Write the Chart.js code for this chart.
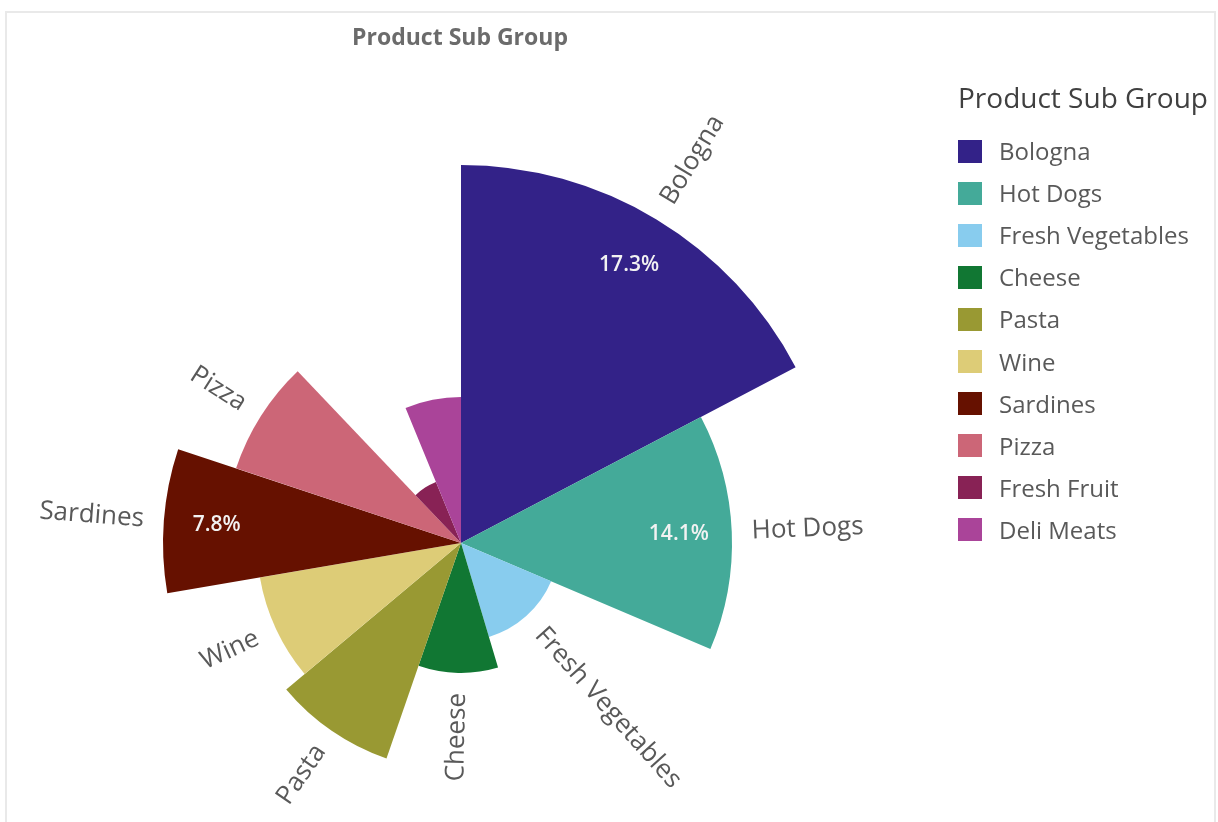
<!DOCTYPE html>
<html>
<head>
<meta charset="utf-8">
<script src="https://cdn.jsdelivr.net/npm/chart.js@4.4.1/dist/chart.umd.min.js"></script>
<style>
  html, body { margin: 0; padding: 0; background: #ffffff; }
  body { width: 1218px; height: 822px; position: relative; overflow: hidden; font-family: "Open Sans", "Noto Sans", sans-serif; }
  #frame { position: absolute; left: 5px; top: 11px; width: 1211px; height: 830px; border: 2px solid #e9e9e9; box-sizing: border-box; }
  #wrap { position: absolute; left: 0; top: 0; width: 1218px; height: 822px; }
  #title { position: absolute; left: 210px; width: 500px; top: 21px; line-height: 30px; text-align: center; font-size: 23px; font-weight: 700; color: #6b6b6b; }
  #legend { position: absolute; left: 958px; top: 0; }
  #legend .lt { position: absolute; left: 0; top: 77px; font-size: 28px; color: #404040; font-weight: 400; line-height: 40px; white-space: nowrap; }
  #legend .row { position: absolute; left: 0; height: 42px; display: flex; align-items: center; white-space: nowrap; }
  #legend .sw { width: 24px; height: 23px; margin-right: 17px; flex: none; }
  #legend .tx { font-size: 24px; color: #595959; line-height: 42px; }
</style>
</head>
<body>
<div id="frame"></div>
<div id="wrap"><canvas id="c"></canvas></div>
<div id="title">Product Sub Group</div>
<div id="legend"></div>
<script>
// Categories (clockwise from 12 o'clock)
const categories = ["Bologna", "Hot Dogs", "Fresh Vegetables", "Cheese", "Pasta", "Wine", "Sardines", "Pizza", "Fresh Fruit", "Deli Meats"];
// Share of total (%) -> slice angle
const sharePct = [17.3, 14.1, 14.0, 9.9, 8.6, 8.4, 7.8, 7.8, 5.9, 6.2];
// Second measure -> slice radius (relative units)
const radiusValues = [378, 271, 98, 130, 228, 204, 298, 237, 66, 146];
// Which slices show a value label inside / a category label outside
const showValueLabel = [true, true, false, false, false, false, true, false, false, false];
const showCategoryLabel = [true, true, true, true, true, true, true, true, false, false];
const colors = ["#332288", "#44aa99", "#88ccee", "#117733", "#999933", "#ddcc77", "#661100", "#cc6677", "#882255", "#aa4499"];

// Legend (HTML)
const legend = document.getElementById('legend');
legend.innerHTML = '<div class="lt">Product Sub Group</div>' + categories.map((c, i) =>
  `<div class="row" style="top:${(151 + i * 42.1 - 21).toFixed(1)}px"><div class="sw" style="background:${colors[i]}"></div><div class="tx">${c}</div></div>`).join('');

const labelPlugin = {
  id: 'sliceLabels',
  afterDatasetsDraw(chart) {
    const ctx = chart.ctx;
    const meta = chart.getDatasetMeta(0);
    meta.data.forEach((arc, i) => {
      const p = arc.getProps(['x', 'y', 'startAngle', 'endAngle', 'outerRadius'], true);
      const mid = (p.startAngle + p.endAngle) / 2;
      const compass = mid + Math.PI / 2; // clockwise from 12 o'clock
      const comp = ((compass % (2 * Math.PI)) + 2 * Math.PI) % (2 * Math.PI);
      if (showCategoryLabel[i]) {
        const r = p.outerRadius + 20;
        const lx = p.x + Math.cos(mid) * r;
        const ly = p.y + Math.sin(mid) * r;
        ctx.save();
        ctx.translate(lx, ly);
        ctx.font = '400 26px "Open Sans", "Noto Sans", sans-serif';
        ctx.fillStyle = '#595959';
        ctx.textBaseline = 'middle';
        if (comp > 0 && comp <= Math.PI) {
          ctx.rotate(mid);
          ctx.textAlign = 'left';
        } else {
          ctx.rotate(mid + Math.PI);
          ctx.textAlign = 'right';
        }
        ctx.fillText(categories[i], 0, 0);
        ctx.restore();
      }
      if (showValueLabel[i]) {
        const r = p.outerRadius - 53;
        const lx = p.x + Math.cos(mid) * r;
        const ly = p.y + Math.sin(mid) * r;
        ctx.save();
        ctx.font = '600 21px "Open Sans", "Noto Sans", sans-serif';
        ctx.fillStyle = '#f2f2f2';
        ctx.textAlign = 'center';
        ctx.textBaseline = 'middle';
        ctx.fillText(sharePct[i].toFixed(1) + '%', lx, ly);
        ctx.restore();
      }
    });
  }
};

new Chart(document.getElementById('c'), {
  type: 'polarArea',
  data: {
    labels: categories,
    datasets: [{
      data: radiusValues,
      backgroundColor: colors,
      borderWidth: 0,
      clip: false,
      angle: (ctx) => sharePct[ctx.dataIndex] * 3.6
    }]
  },
  options: {
    responsive: true,
    maintainAspectRatio: false,
    animation: false,
    layout: { padding: { left: 161, right: 457, top: 264, bottom: 0 } },
    plugins: { legend: { display: false }, title: { display: false }, tooltip: { enabled: false } },
    scales: {
      r: {
        min: 0,
        max: 279,
        startAngle: 0,
        ticks: { display: false },
        grid: { display: false },
        angleLines: { display: false },
        pointLabels: { display: false }
      }
    }
  },
  plugins: [labelPlugin]
});
</script>
</body>
</html>
